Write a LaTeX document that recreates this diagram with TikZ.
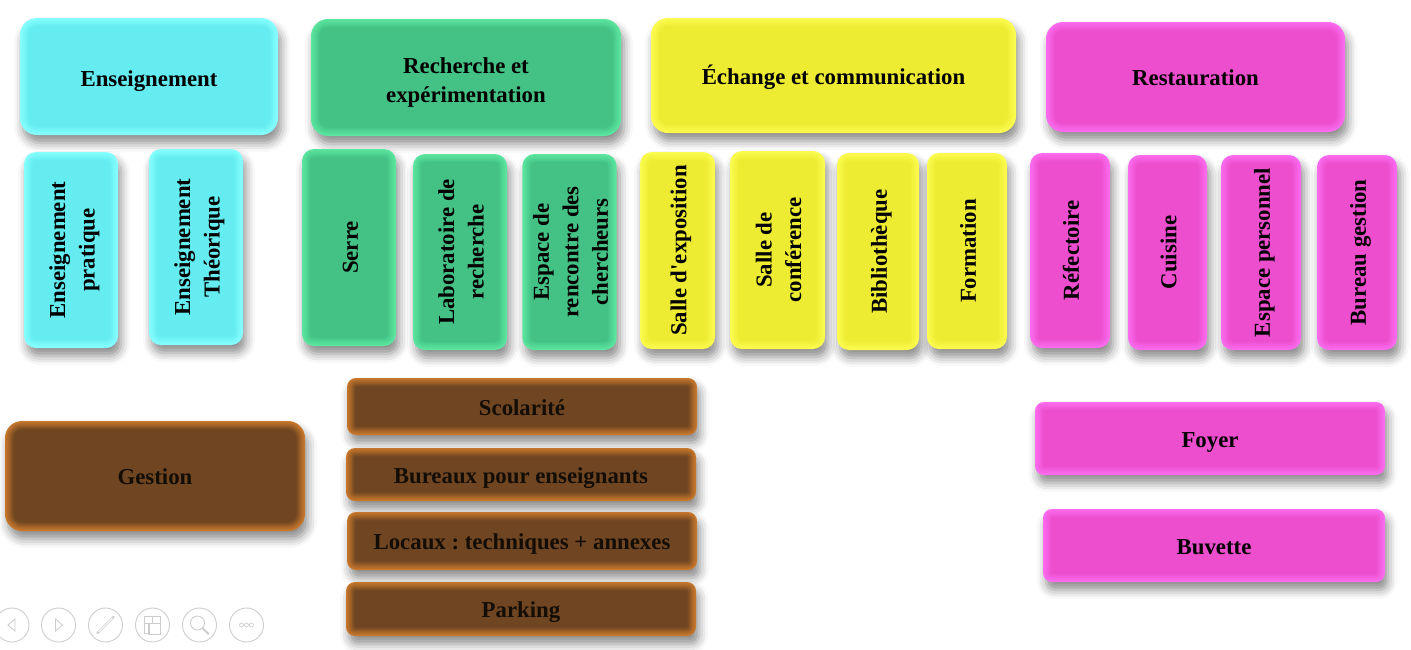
\documentclass[tikz,border=0pt]{standalone}
\usepackage{fontspec}
\usepackage{graphicx}
\setmainfont{Liberation Serif}
\usetikzlibrary{shadows.blur}
\frenchspacing
\definecolor{glowin}{RGB}{255,255,255}
\definecolor{glowout}{RGB}{255,255,255}
\definecolor{cyanin}{RGB}{100,236,240}
\definecolor{cyanout}{RGB}{135,255,255}
\definecolor{greenin}{RGB}{68,194,134}
\definecolor{greenout}{RGB}{92,230,160}
\definecolor{yellowin}{RGB}{238,236,50}
\definecolor{yellowout}{RGB}{252,252,80}
\definecolor{magin}{RGB}{236,78,206}
\definecolor{magout}{RGB}{252,108,238}
\definecolor{brownin}{RGB}{112,70,34}
\definecolor{brownout}{RGB}{200,120,44}
\definecolor{tbgray}{RGB}{205,205,205}
\newcommand\vt[1]{\hspace*{6pt}\rotatebox{90}{\begin{tabular}{@{}c@{}}#1\end{tabular}}}
\newcommand\hb[2][8.7pt]{\raisebox{-#1}[0pt][0pt]{\begin{tabular}[b]{@{}c@{}}#2\end{tabular}}}
\newcommand\rr{12}
\tikzset{
  basebox/.style={fill=glowout, text=black, align=center, inner sep=0pt,
    font=\bfseries\fontsize{22.8}{29.4}\selectfont,
    path picture={
      \foreach \k [evaluate=\k as \p using int(\k*100/7),
                   evaluate=\k as \d using \k*1.2,
                   evaluate=\k as \rc using \rr-\k*1.2] in {1,...,7}
        \fill[glowin!\p!glowout, rounded corners=\rc pt]
          ([shift={(\d,\d)}]path picture bounding box.north west) rectangle
          ([shift={(-\d,-\d)}]path picture bounding box.south east);
    },
    blur shadow={shadow xshift=3pt, shadow yshift=-8pt, shadow blur radius=9pt, shadow opacity=45}},
  cyanbox/.style={basebox, /utils/exec={\colorlet{glowin}{cyanin}\colorlet{glowout}{cyanout}}},
  greenbox/.style={basebox, /utils/exec={\colorlet{glowin}{greenin}\colorlet{glowout}{greenout}}},
  yellowbox/.style={basebox, /utils/exec={\colorlet{glowin}{yellowin}\colorlet{glowout}{yellowout}}},
  magbox/.style={basebox, /utils/exec={\colorlet{glowin}{magin}\colorlet{glowout}{magout}}},
  brownbox/.style={basebox, text=black!90!brown, /utils/exec={\colorlet{glowin}{brownin}\colorlet{glowout}{brownout}}},
  big/.style={rounded corners=17pt, /utils/exec={\renewcommand\rr{17}}},
  tall/.style={rounded corners=12pt, text depth=0pt, /utils/exec={\renewcommand\rr{12}}},
  flat/.style={rounded corners=9pt, /utils/exec={\renewcommand\rr{9}}},
  sz/.style 2 args={minimum width=#1pt, minimum height=#2pt},
  tb/.style={circle, draw=tbgray, line width=0.9pt, minimum size=34pt, inner sep=0pt},
  tbg/.style={draw=tbgray, line width=0.9pt}
}
\begin{document}
\begin{tikzpicture}[x=1pt,y=-1pt]
\useasboundingbox (0,0) rectangle (1411,649);
% top categories
\node[cyanbox,big,sz={258}{117}] (ens) at (149,76.5) {\hb[9.5pt]{Enseignement}};
\node[greenbox,big,sz={310}{117}] (rech) at (466,77.5) {\hb[25.2pt]{Recherche et\\expérimentation}};
\node[yellowbox,big,sz={365}{115}] (ech) at (833.5,75.5) {\hb{Échange et communication}};
\node[magbox,big,sz={299}{110}] (rest) at (1195.5,77) {\hb{Restauration}};
% vertical boxes
\node[cyanbox,tall,sz={94}{196}] (ep) at (71,250) {\vt{Enseignement\\pratique}};
\node[cyanbox,tall,sz={94}{196}] (et) at (196,247) {\vt{Enseignement\\Théorique}};
\node[greenbox,tall,sz={94}{197}] (serre) at (349,247.5) {\vt{Serre}};
\node[greenbox,tall,sz={94}{196}] (labo) at (460,252) {\vt{Laboratoire de\\recherche}};
\node[greenbox,tall,sz={93}{196}] (espr) at (569.5,252) {\vt{Espace de\\rencontre des\\chercheurs}};
\node[yellowbox,tall,sz={75}{197}] (sexpo) at (677.5,250.5) {\vt{Salle d\textquotesingle exposition}};
\node[yellowbox,tall,sz={95}{198}] (sconf) at (777.5,250) {\vt{Salle de\\conférence}};
\node[yellowbox,tall,sz={82}{197}] (bib) at (878,251.5) {\vt{Bibliothèque}};
\node[yellowbox,tall,sz={80}{196}] (form) at (967,251) {\vt{Formation}};
\node[magbox,tall,sz={80}{195}] (refe) at (1070,250.5) {\vt{Réfectoire}};
\node[magbox,tall,sz={79}{195}] (cuis) at (1167.5,252.5) {\vt{Cuisine}};
\node[magbox,tall,sz={80}{195}] (espp) at (1261,252.5) {\vt{Espace personnel}};
\node[magbox,tall,sz={80}{195}] (burg) at (1357,252.5) {\vt{Bureau gestion}};
% bottom
\node[brownbox,big,sz={300}{110}] (gest) at (155,476) {\hb{Gestion}};
\node[brownbox,flat,sz={350}{57}] (scol) at (522,406.5) {\hb{Scolarité}};
\node[brownbox,flat,sz={350}{53}] (bure) at (521,474.5) {\hb{Bureaux pour enseignants}};
\node[brownbox,flat,sz={350}{58}] (loc) at (522,541) {\hb{Locaux : techniques + annexes}};
\node[brownbox,flat,sz={350}{54}] (park) at (521,609) {\hb{Parking}};
\node[magbox,flat,sz={350}{73}] (foyer) at (1210,438.5) {\hb{Foyer}};
\node[magbox,flat,sz={342}{73}] (buv) at (1214,545.5) {\hb{Buvette}};
% toolbar
\node[tb] (t1) at (12,625) {};
\node[tb] (t2) at (58.5,625) {};
\node[tb] (t3) at (105.5,625) {};
\node[tb] (t4) at (152.5,625) {};
\node[tb] (t5) at (199.5,625) {};
\node[tb] (t6) at (246.5,625) {};
\draw[tbg] ([shift={(3,-6)}]t1.center) -- ++(-7,6) -- ++(7,6) -- cycle;
\draw[tbg] ([shift={(-3,-6)}]t2.center) -- ++(7,6) -- ++(-7,6) -- cycle;
\draw[tbg, line width=2.2pt, line cap=round] ([shift={(-8,8)}]t3.center) -- ([shift={(8,-8)}]t3.center);
\draw[draw=white, line width=0.8pt] ([shift={(-7,7)}]t3.center) -- ([shift={(7,-7)}]t3.center);
\draw[tbg] ([shift={(-8,-9)}]t4.center) rectangle ([shift={(0,-2)}]t4.center);
\draw[tbg] ([shift={(0,-9)}]t4.center) rectangle ([shift={(8,-2)}]t4.center);
\draw[tbg] ([shift={(-8,-2)}]t4.center) rectangle ([shift={(-3,8)}]t4.center);
\draw[tbg] ([shift={(-4,-2)}]t4.center) rectangle ([shift={(8,9)}]t4.center);
\draw[tbg] ([shift={(-2,-2)}]t5.center) circle (7);
\draw[tbg, line width=2pt, line cap=round] ([shift={(3,3)}]t5.center) -- ([shift={(9,9)}]t5.center);
\foreach \dx in {-5,0,5} \draw[tbg, line width=0.7pt] ([shift={(\dx,0)}]t6.center) circle (2);
\end{tikzpicture}
\end{document}
